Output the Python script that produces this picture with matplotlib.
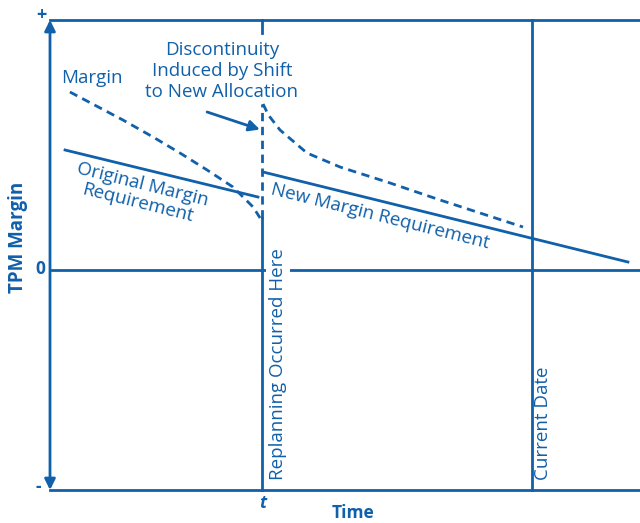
import numpy as np
import matplotlib
matplotlib.use('Agg')
import matplotlib.pyplot as plt

plt.rcParams['font.family'] = ['Open Sans', 'DejaVu Sans']

blue = '#1060aa'

# time in units of the replanning time t, margin in arbitrary units
t_replan = 1.0
t_current = 2.274
t_end = 2.783
m_top = 1.0
m_bot = -0.88

# actual margin before and after the shift
margin_before_x = [0.094, 0.344, 0.486, 0.613, 0.741, 0.863, 0.958, 0.991]
margin_before_y = [0.712, 0.600, 0.532, 0.468, 0.400, 0.332, 0.252, 0.208]
margin_after_x = [1.005, 1.030, 1.085, 1.212, 1.368, 1.604, 1.840, 2.231]
margin_after_y = [0.664, 0.620, 0.560, 0.468, 0.412, 0.348, 0.280, 0.172]

# margin requirements
orig_req_x = [0.071, 0.981]
orig_req_y = [0.480, 0.292]
new_req_x = [1.005, 2.726]
new_req_y = [0.392, 0.032]

# discontinuity at t
jump_y = [0.208, 0.664]

fig = plt.figure(figsize=(6.4, 5.23), dpi=100)
ax = fig.add_axes([50/640, 33/523, 590/640, 470/523])
ax.set_xlim(0, t_end)
ax.set_ylim(m_bot, m_top)
ax.axis('off')

lw = 2
dash = (0, (3, 2))

# frame lines
ax.plot([0, t_end], [m_top, m_top], color=blue, lw=lw, clip_on=False)
ax.plot([0, t_end], [m_bot, m_bot], color=blue, lw=lw, clip_on=False)
ax.plot([0, t_end], [0, 0], color=blue, lw=lw, clip_on=False)
ax.annotate('', xy=(0, m_top), xytext=(0, m_bot),
            arrowprops=dict(arrowstyle='<|-|>', color=blue, lw=lw,
                            mutation_scale=16, shrinkA=0, shrinkB=0),
            annotation_clip=False)

# vertical markers
ax.plot([t_replan, t_replan], [m_bot, jump_y[0]], color=blue, lw=lw, clip_on=False)
ax.plot([t_replan, t_replan], jump_y, color=blue, lw=lw, ls=dash)
ax.plot([t_replan, t_replan], [0.948, m_top], color=blue, lw=lw, clip_on=False)
ax.plot([t_current, t_current], [m_bot, m_top], color=blue, lw=lw, clip_on=False)

# curves
ax.plot(margin_before_x, margin_before_y, color=blue, lw=lw, ls=dash)
ax.plot(margin_after_x, margin_after_y, color=blue, lw=lw, ls=dash)
ax.plot(orig_req_x, orig_req_y, color=blue, lw=lw)
ax.plot(new_req_x, new_req_y, color=blue, lw=lw)

ax.annotate('', xy=(0.99, 0.562), xytext=(0.741, 0.632),
            arrowprops=dict(arrowstyle='-|>', color=blue, lw=lw,
                            mutation_scale=16, shrinkA=0, shrinkB=0))

fs = 13.5
ax.text(-0.042, 1.02, '+', color=blue, fontsize=13, fontweight='bold', ha='center', va='center')
ax.text(-0.047, 0.004, '0', color=blue, fontsize=12.5, fontweight='bold', ha='center', va='center')
ax.text(-0.057, -0.868, '-', color=blue, fontsize=12.5, fontweight='bold', ha='center', va='center')
ax.text(-0.151, 0.13, 'TPM Margin', color=blue, fontsize=13.5, fontweight='bold',
        rotation=90, ha='center', va='center')
ax.text(1.005, -0.932, 't', color=blue, fontsize=12.5, fontweight='bold',
        fontstyle='italic', ha='center', va='center')
ax.text(1.429, -0.972, 'Time', color=blue, fontsize=12.5, fontweight='bold',
        ha='center', va='center')

ax.text(0.198, 0.768, 'Margin', color=blue, fontsize=fs, ha='center', va='center')
ax.text(0.811, 0.796, 'Discontinuity\nInduced by Shift\nto New Allocation', color=blue,
        fontsize=fs, ha='center', va='center', linespacing=1.2)
ax.text(0.425, 0.305, 'Original Margin\nRequirement', color=blue, fontsize=fs,
        ha='center', va='center', rotation=-14, rotation_mode='anchor', linespacing=1.05)
ax.text(1.557, 0.215, 'New Margin Requirement', color=blue, fontsize=fs,
        ha='center', va='center', rotation=-14, rotation_mode='anchor')
ax.text(1.075, -0.84, 'Replanning Occurred Here', color=blue, fontsize=fs,
        rotation=90, ha='center', va='bottom',
        bbox=dict(facecolor='white', edgecolor='none', pad=2))
ax.text(2.325, -0.84, 'Current Date', color=blue, fontsize=fs,
        rotation=90, ha='center', va='bottom')

fig.savefig('out.png', dpi=100)
